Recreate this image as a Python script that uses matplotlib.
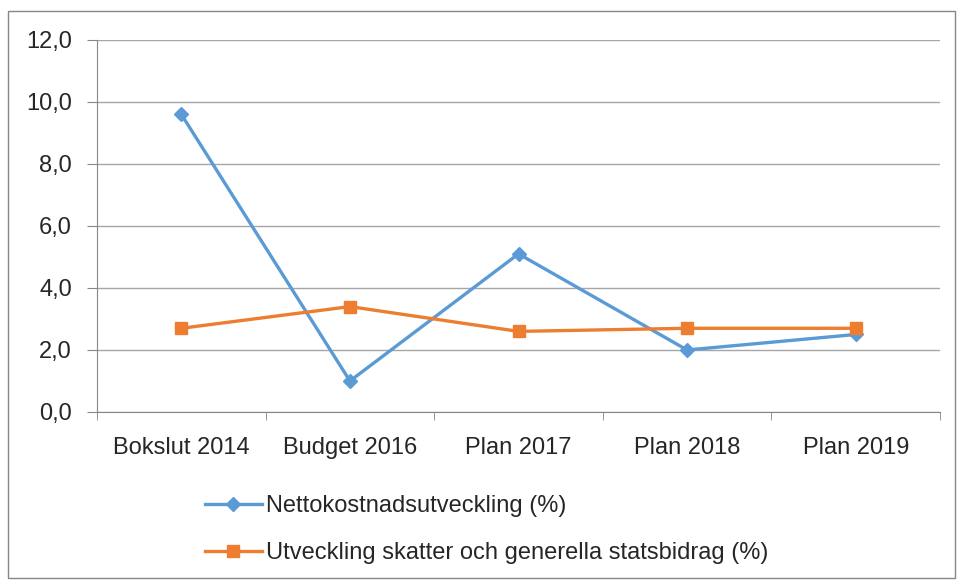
import matplotlib
matplotlib.use('Agg')
import matplotlib.pyplot as plt
from matplotlib.patches import Rectangle
from matplotlib.ticker import FuncFormatter

categories = ['Bokslut 2014', 'Budget 2016', 'Plan 2017', 'Plan 2018', 'Plan 2019']
netto = [9.6, 1.0, 5.1, 2.0, 2.5]
skatter = [2.7, 3.4, 2.6, 2.7, 2.7]
labels = ['Nettokostnadsutveckling (%)',
          'Utveckling skatter och generella statsbidrag (%)']

plt.rcParams['font.family'] = ['Liberation Sans', 'DejaVu Sans']

fig = plt.figure(figsize=(9.58, 5.81), dpi=100)
ax = fig.add_axes([0.1013, 0.2909, 0.8799, 0.6403])

x = range(len(categories))
ax.plot(x, netto, color='#5B9BD5', linewidth=2.4, marker='D', markersize=7,
        label=labels[0], zorder=3)
ax.plot(x, skatter, color='#ED7D31', linewidth=2.4, marker='s', markersize=8.5,
        label=labels[1], zorder=3)

ax.set_xlim(-0.5, len(categories) - 0.5)
ax.set_ylim(0, 12)
ax.set_yticks(range(0, 13, 2))
ax.yaxis.set_major_formatter(FuncFormatter(lambda v, p: f'{v:.1f}'.replace('.', ',')))
ax.set_xticks(list(x))
ax.set_xticklabels(categories)
ax.set_xticks([i - 0.5 for i in range(len(categories) + 1)], minor=True)
ax.tick_params(axis='x', which='major', length=0, labelsize=17, pad=18, colors='#262626')
ax.tick_params(axis='x', which='minor', length=6, color='#868686', direction='out')
ax.tick_params(axis='y', length=7, labelsize=17, pad=11, colors='#262626')
ax.tick_params(axis='y', color='#868686')

ax.grid(axis='y', color='#A6A6A6', linewidth=1)
ax.set_axisbelow(True)
for side in ['top', 'right']:
    ax.spines[side].set_visible(False)
ax.spines['left'].set_color('#868686')
ax.spines['bottom'].set_color('#868686')

leg = fig.legend(loc='upper left', bbox_to_anchor=(0.214, 0.148), frameon=False,
                 fontsize=17, handlelength=2.4, handletextpad=0.2,
                 labelspacing=1.05, borderaxespad=0, borderpad=0)
for t in leg.get_texts():
    t.set_color('#262626')

fig.patches.append(Rectangle((8 / 958, 3 / 581), 947 / 958, 567 / 581,
                             transform=fig.transFigure, fill=False,
                             edgecolor='#868686', linewidth=1))

fig.savefig('out.png', dpi=100)
